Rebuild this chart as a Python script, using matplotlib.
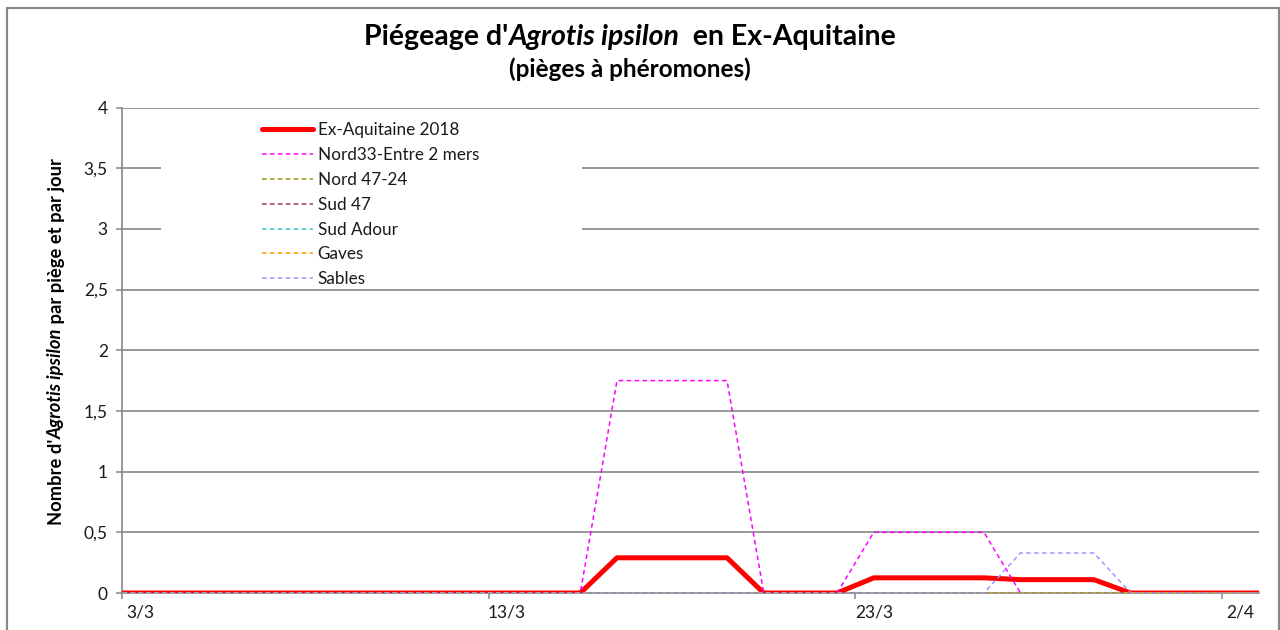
import matplotlib
matplotlib.use("Agg")
import matplotlib.pyplot as plt
import matplotlib.dates as mdates
from matplotlib.patches import Rectangle
from matplotlib.lines import Line2D
from matplotlib.transforms import IdentityTransform
import pandas as pd

plt.rcParams['font.family'] = ['Lato', 'DejaVu Sans']

# ---------------- data ----------------
series_names = ["Ex-Aquitaine 2018", "Nord33-Entre 2 mers", "Nord 47-24",
                "Sud 47", "Sud Adour", "Gaves", "Sables"]
series_colors = ["#FF0000", "#FF00FF", "#999900", "#993366", "#33CCCC",
                 "#FF9900", "#9999FF"]

ex_aquitaine_dates = ["2018-03-01", "2018-03-15", "2018-03-16", "2018-03-19",
                      "2018-03-20", "2018-03-22", "2018-03-23", "2018-03-26",
                      "2018-03-27", "2018-03-29", "2018-03-30", "2018-04-04"]
ex_aquitaine_vals = [0, 0, 0.29, 0.29, 0, 0, 0.125, 0.125, 0.11, 0.11, 0, 0]

nord33_dates = ["2018-03-01", "2018-03-15", "2018-03-16", "2018-03-19",
                "2018-03-20", "2018-03-22", "2018-03-23", "2018-03-26",
                "2018-03-27"]
nord33_vals = [0, 0, 1.75, 1.75, 0, 0, 0.5, 0.5, 0]

nord4724_dates = ["2018-03-01", "2018-04-04"]
nord4724_vals = [0, 0]
sud47_dates = ["2018-03-01", "2018-04-04"]
sud47_vals = [0, 0]
sudadour_dates = ["2018-03-01", "2018-04-04"]
sudadour_vals = [0, 0]
gaves_dates = ["2018-03-01", "2018-04-04"]
gaves_vals = [0, 0]
sables_dates = ["2018-03-01", "2018-03-26", "2018-03-27", "2018-03-29",
                "2018-03-30", "2018-04-04"]
sables_vals = [0, 0, 0.33, 0.33, 0, 0]

tick_dates = ["2018-03-03", "2018-03-13", "2018-03-23", "2018-04-02"]
tick_labels = ["3/3", "13/3", "23/3", "2/4"]
y_ticks = [0, 0.5, 1, 1.5, 2, 2.5, 3, 3.5, 4]
y_tick_labels = ["0", "0,5", "1", "1,5", "2", "2,5", "3", "3,5", "4"]

all_dates = [ex_aquitaine_dates, nord33_dates, nord4724_dates, sud47_dates,
             sudadour_dates, gaves_dates, sables_dates]
all_vals = [ex_aquitaine_vals, nord33_vals, nord4724_vals, sud47_vals,
            sudadour_vals, gaves_vals, sables_vals]

# ---------------- figure ----------------
W, H = 1280, 630
fig = plt.figure(figsize=(W / 100, H / 100), dpi=100)
ax = fig.add_axes([121.7 / W, (H - 593) / H, (1259 - 121.7) / W, (593 - 107.5) / H])

GRID = "#868686"

def dnum(lst):
    return mdates.date2num(pd.to_datetime(lst))

for i, (d, v) in enumerate(zip(all_dates, all_vals)):
    if i == 0:
        ax.plot(dnum(d), v, color=series_colors[i], lw=3.6, zorder=3,
                solid_capstyle='butt', solid_joinstyle='round')
    else:
        ax.plot(dnum(d), v, color=series_colors[i], lw=1.1, zorder=3 + i,
                linestyle=(0, (3, 2.2)))

t0 = dnum(tick_dates)
ax.set_xlim(t0[0] - 0.5, t0[-1] + 0.5)
ax.set_ylim(0, 4)

ax.set_xticks(t0 - 0.5)
ax.set_xticklabels([])
ax.set_xticks(t0, minor=True)
ax.set_xticklabels(tick_labels, minor=True)
ax.tick_params(axis='x', which='major', direction='out', length=4, width=1.1, color=GRID)
ax.tick_params(axis='x', which='minor', length=0, pad=8, labelsize=12.5, labelcolor='#1a1a1a')

ax.set_yticks(y_ticks)
ax.set_yticklabels(y_tick_labels)
ax.tick_params(axis='y', direction='out', length=4, width=1.1, color=GRID, pad=6,
               labelsize=12.5, labelcolor='#1a1a1a')

ax.grid(axis='y', color=GRID, lw=1.2)
ax.set_axisbelow(True)
for s in ['top', 'right']:
    ax.spines[s].set_visible(False)
for s in ['left', 'bottom']:
    ax.spines[s].set_color(GRID)
    ax.spines[s].set_linewidth(1.2)

# legend background
ax.add_patch(Rectangle((161 / W, 1 - 288 / H), (582 - 161) / W, (288 - 113) / H,
                       transform=fig.transFigure, facecolor='white', edgecolor='none',
                       zorder=1, clip_on=False))
handles = []
for i, name in enumerate(series_names):
    if i == 0:
        handles.append(Line2D([], [], color=series_colors[i], lw=3.6, solid_capstyle='round'))
    else:
        handles.append(Line2D([], [], color=series_colors[i], lw=1.1, linestyle=(0, (3, 2.2))))
leg = ax.legend(handles, series_names, loc='upper left',
                bbox_to_anchor=(262 / W, 1 - 122 / H), bbox_transform=fig.transFigure,
                frameon=False, fontsize=12.3, handlelength=3.0, handletextpad=0.25,
                labelspacing=0.52, borderpad=0, borderaxespad=0)
for t in leg.get_texts():
    t.set_color('#1a1a1a')
leg.set_zorder(20)

# chart border
fig.patches.append(Rectangle((7 / W, -0.1), (1279 - 7) / W, (H - 8) / H + 0.1,
                             transform=fig.transFigure, fill=False,
                             edgecolor='#898989', lw=1.6))

# ---------------- rich text helper ----------------
renderer = fig.canvas.get_renderer()

def advance(s, **kw):
    a = fig.text(0, 0, "|" + s + "|", **kw)
    b = fig.text(0, 0, "||", **kw)
    wa = a.get_window_extent(renderer).width
    wb = b.get_window_extent(renderer).width
    a.remove(); b.remove()
    return wa - wb

def rich(parts, cx, cy, fontsize, vertical=False):
    widths = []
    for s, style in parts:
        kw = dict(fontsize=fontsize, fontweight='bold', fontstyle=style)
        widths.append(advance(s, **kw))
    total = sum(widths)
    pos = (cy if vertical else cx) - total / 2
    for (s, style), w in zip(parts, widths):
        if vertical:
            fig.text(cx, pos, s, fontsize=fontsize, fontweight='bold', fontstyle=style,
                     rotation=90, rotation_mode='anchor', ha='left', va='baseline',
                     transform=IdentityTransform(), color='black')
        else:
            fig.text(pos, cy, s, fontsize=fontsize, fontweight='bold', fontstyle=style,
                     ha='left', va='baseline', transform=IdentityTransform(), color='black')
        pos += w

rich([("Piégeage d'", 'normal'), ("Agrotis ipsilon", 'italic'),
      ("  en Ex-Aquitaine", 'normal')], 630, H - 45, 20.5)
rich([("(pièges à phéromones)", 'normal')], 630, H - 77, 17.5)
rich([("Nombre d'", 'normal'), ("Agrotis ipsilon", 'italic'),
      (" par piège et par jour", 'normal')], 62, H - 342, 13.2, vertical=True)

fig.savefig("out.png", dpi=100)
